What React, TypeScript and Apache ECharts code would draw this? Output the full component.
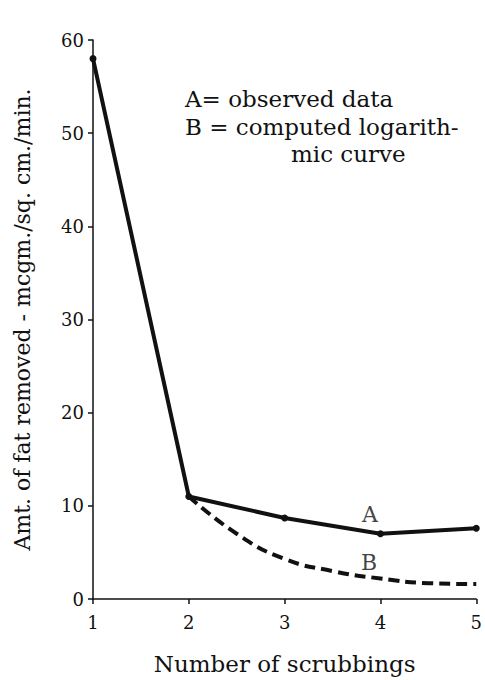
import React, { useEffect, useRef } from "react";
import * as echarts from "echarts";

const xTicks = [1, 2, 3, 4, 5];
const observedX = [1, 2, 3, 4, 5];
const observedY = [58, 11, 8.7, 7, 7.6];
const computedX = [2, 2.5, 3, 3.5, 4, 4.5, 5];
const computedY = [11, 7, 4.3, 3, 2.2, 1.7, 1.6];
const yTicks = [0, 10, 20, 30, 40, 50, 60];
const labelA = { x: 3.89, y: 9.1, text: "A" };
const labelB = { x: 3.88, y: 3.9, text: "B" };
const legendLines = ["A= observed data", "B = computed logarith-", "mic curve"];

const FONT = "'DejaVu Serif', serif";

export default function App() {
  const ref = useRef<HTMLDivElement>(null);
  useEffect(() => {
    if (!ref.current) return;
    const chart = echarts.init(ref.current, undefined, { renderer: "svg" });
    chart.setOption({
      animation: false,
      backgroundColor: "#fff",
      grid: { left: 93, right: 7, top: 40, bottom: 79 },
      xAxis: {
        type: "value",
        min: 1,
        max: 5,
        interval: 1,
        name: "Number of scrubbings",
        nameLocation: "middle",
        nameGap: 53,
        nameTextStyle: { fontFamily: FONT, fontSize: 23, color: "#111" },
        axisLine: { show: true, lineStyle: { color: "#111", width: 1.5 } },
        axisTick: { show: true, length: 5, lineStyle: { color: "#111", width: 1.5 } },
        axisLabel: { fontFamily: FONT, fontSize: 18, color: "#111", margin: 14 },
        splitLine: { show: false },
      },
      yAxis: {
        type: "value",
        min: 0,
        max: 60,
        interval: 10,
        name: "Amt. of fat removed - mcgm./sq. cm./min.",
        nameLocation: "middle",
        nameGap: 60,
        nameRotate: 90,
        nameTextStyle: { fontFamily: FONT, fontSize: 22, color: "#111" },
        axisLine: { show: true, lineStyle: { color: "#111", width: 1.5 } },
        axisTick: { show: true, length: 5, lineStyle: { color: "#111", width: 1.5 } },
        axisLabel: {
          fontFamily: FONT,
          fontSize: 18,
          color: "#111",
          margin: 9,
          formatter: (v: number) => (yTicks.includes(v) ? String(v) : ""),
        },
        splitLine: { show: false },
      },
      series: [
        {
          type: "line",
          data: observedX.map((x, i) => [x, observedY[i]]),
          lineStyle: { color: "#111", width: 4 },
          itemStyle: { color: "#111" },
          symbol: "circle",
          symbolSize: 7,
          z: 3,
        },
        {
          type: "line",
          data: computedX.map((x, i) => [x, computedY[i]]),
          smooth: true,
          showSymbol: false,
          lineStyle: { color: "#111", width: 4, type: [11, 6] },
          z: 2,
        },
        {
          type: "scatter",
          data: [
            [labelA.x, labelA.y],
            [labelB.x, labelB.y],
          ],
          symbolSize: 0,
          label: {
            show: true,
            position: "inside",
            fontFamily: FONT,
            fontSize: 22,
            color: "#111",
            formatter: (p: any) => (p.dataIndex === 0 ? labelA.text : labelB.text),
          },
        },
      ],
      graphic: [
        {
          type: "text",
          left: 185,
          top: 87,
          style: { text: legendLines[0], fontFamily: FONT, fontSize: 23, fill: "#111" },
        },
        {
          type: "text",
          left: 185,
          top: 115,
          style: { text: legendLines[1], fontFamily: FONT, fontSize: 23, fill: "#111" },
        },
        {
          type: "text",
          left: 291,
          top: 142,
          style: { text: legendLines[2], fontFamily: FONT, fontSize: 23, fill: "#111" },
        },
      ],
    });
    return () => chart.dispose();
  }, []);
  return <div ref={ref} style={{ width: 485, height: 680, position: "absolute", left: 0, top: 0 }} />;
}
